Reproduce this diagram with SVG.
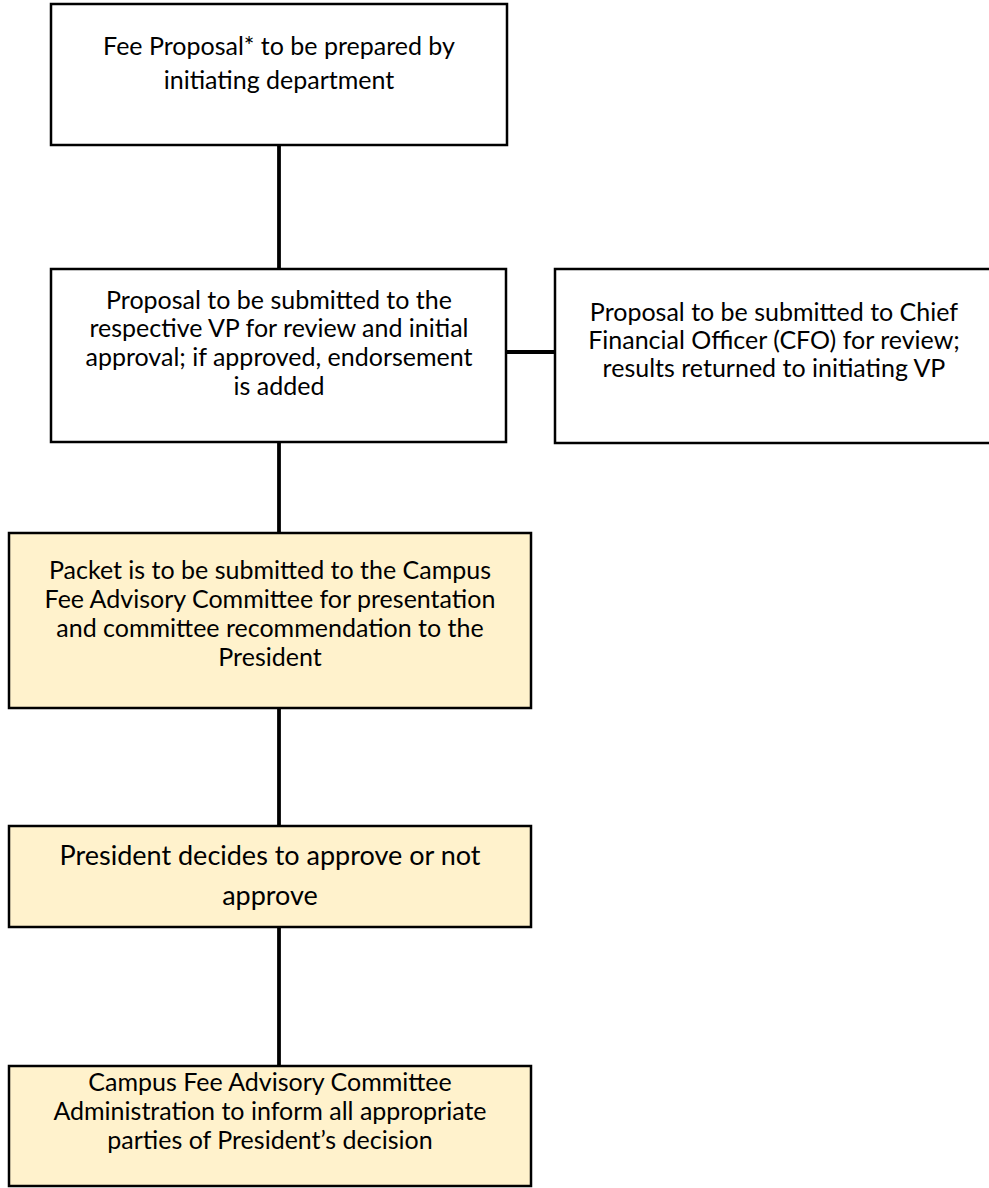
<svg xmlns="http://www.w3.org/2000/svg" width="989" height="1188" viewBox="0 0 989 1188">
<style>
.box{stroke:#000;stroke-width:2.5}
.w{fill:#fff}
.y{fill:#fff2cc}
.t{font-family:Lato,"Liberation Sans",sans-serif;font-size:25px;fill:#000;text-anchor:middle}
.big{font-size:27px}
.c{stroke:#000;stroke-width:3.8;fill:none}
</style>
<rect width="989" height="1188" fill="#fff"/>
<g id="connectors">
<line class="c" x1="279" y1="145" x2="279" y2="269"/>
<line class="c" x1="279" y1="442" x2="279" y2="533"/>
<line class="c" x1="506" y1="352" x2="555" y2="352"/>
<line class="c" x1="279" y1="708" x2="279" y2="826"/>
<line class="c" x1="279" y1="927" x2="279" y2="1066"/>
</g>
<g id="n1">
<rect class="box w" x="51" y="4" width="456" height="141"/>
<text class="t" x="279" y="55">Fee Proposal* to be prepared by</text>
<text class="t" x="279" y="89">initiating department</text>
</g>
<g id="n2">
<rect class="box w" x="51" y="269" width="455" height="173"/>
<text class="t" x="279" y="309">Proposal to be submitted to the</text>
<text class="t" x="279" y="337">respective VP for review and initial</text>
<text class="t" x="279" y="366">approval; if approved, endorsement</text>
<text class="t" x="279" y="395">is added</text>
</g>
<g id="n3">
<rect class="box w" x="555" y="269" width="440" height="174"/>
<text class="t" x="774" y="321">Proposal to be submitted to Chief</text>
<text class="t" x="774" y="349">Financial Officer (CFO) for review;</text>
<text class="t" x="774" y="377">results returned to initiating VP</text>
</g>
<g id="n4">
<rect class="box y" x="9" y="533" width="522" height="175"/>
<text class="t" x="270" y="579">Packet is to be submitted to the Campus</text>
<text class="t" x="270" y="608">Fee Advisory Committee for presentation</text>
<text class="t" x="270" y="637">and committee recommendation to the</text>
<text class="t" x="270" y="666">President</text>
</g>
<g id="n5">
<rect class="box y" x="9" y="826" width="522" height="101"/>
<text class="t big" x="270" y="865">President decides to approve or not</text>
<text class="t big" x="270" y="905">approve</text>
</g>
<g id="n6">
<rect class="box y" x="9" y="1066" width="522" height="120"/>
<text class="t" x="270" y="1091">Campus Fee Advisory Committee</text>
<text class="t" x="270" y="1120">Administration to inform all appropriate</text>
<text class="t" x="270" y="1149">parties of President’s decision</text>
</g>
</svg>
